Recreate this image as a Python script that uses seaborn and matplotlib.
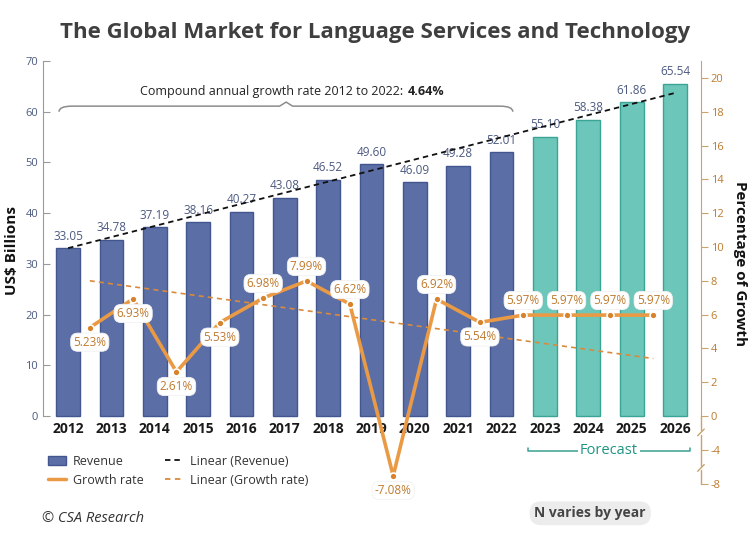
import numpy as np
import pandas as pd
import seaborn as sns
import matplotlib.pyplot as plt
import matplotlib.transforms as mtransforms
from matplotlib.path import Path
from matplotlib.patches import PathPatch, Patch
from matplotlib.lines import Line2D

# Data
years = ["2012", "2013", "2014", "2015", "2016", "2017", "2018", "2019",
         "2020", "2021", "2022", "2023", "2024", "2025", "2026"]
revenue = [33.05, 34.78, 37.19, 38.16, 40.27, 43.08, 46.52, 49.60,
           46.09, 49.28, 52.01, 55.10, 58.38, 61.86, 65.54]
segment = ["Actual"] * 11 + ["Forecast"] * 4
# growth between consecutive years (2012->2013 ... 2025->2026)
growth = [5.23, 6.93, 2.61, 5.53, 6.98, 7.99, 6.62, -7.08,
          6.92, 5.54, 5.97, 5.97, 5.97, 5.97]
# label above (+1) or below (-1) the point
growth_label_side = [-1, -1, -1, -1, 1, 1, 1, -1, 1, -1, 1, 1, 1, 1]
# Excel trendlines, value at first and last point
revenue_trend = [33.1, 63.7]
growth_trend = [8.0, 3.4]
cagr = "4.64%"
left_ticks = [0, 10, 20, 30, 40, 50, 60, 70]
right_ticks = [-8, -4, 0, 2, 4, 6, 8, 10, 12, 14, 16, 18, 20]

BLUE, BLUE_EDGE = "#5b6fa6", "#42568f"
TEAL, TEAL_EDGE = "#6dc6ba", "#3aa596"
ORANGE = "#ea9a45"
ORANGE_TXT = "#bf7a2e"
TAN = "#c9a36c"
SLATE = "#4c5a80"


def gscale(v):
    # right axis is compressed by half below zero
    v = np.asarray(v, dtype=float)
    return np.where(v >= 0, v, v / 2)


sns.set_style("white")
plt.rcParams["font.family"] = ["Open Sans", "DejaVu Sans"]

df = pd.DataFrame({"Year": years, "Revenue": revenue, "Segment": segment})

fig = plt.figure(figsize=(7.5, 5.38), dpi=100)
ax = fig.add_axes([0.0573, 0.1004, 0.8773, 0.7862])

sns.barplot(data=df, x="Year", y="Revenue", hue="Segment",
            palette={"Actual": BLUE, "Forecast": TEAL}, dodge=False,
            width=0.55, saturation=1, legend=False, ax=ax)
for cont, ec in zip(ax.containers, [BLUE_EDGE, TEAL_EDGE]):
    for bar in cont:
        bar.set_edgecolor(ec)
        bar.set_linewidth(1)

ax.set_xlim(-0.58, 14.6)
ax.set_ylim(-13.41, 70)
ax.set_xlabel("")
ax.set_ylabel("")
ax.set_xticks([])
ax.set_yticks(left_ticks)
ax.tick_params(axis="y", direction="in", length=5, color="#9a9a9a",
               labelcolor=SLATE, labelsize=8)
for s in ["top", "bottom", "right"]:
    ax.spines[s].set_visible(False)
ax.spines["left"].set_bounds(0, 70)
ax.spines["left"].set_color("#9a9a9a")

# value labels and year labels
for i, v in enumerate(revenue):
    ax.text(i, v + 2.4, f"{v:.2f}", ha="center", va="center",
            fontsize=8.5, color=SLATE)
for i, y in enumerate(years):
    ax.text(i, -2.5, y, ha="center", va="center", fontsize=10,
            fontweight="bold", color="#1a1a1a")

# revenue trendline
ax.plot([0, len(revenue) - 1], revenue_trend, color="#111111", lw=1.3,
        dashes=(3, 2.2), zorder=4)

# growth rate on the right axis
ax2 = ax.twinx()
ax2.set_ylim(-4.02, 21.0)
gx = np.arange(len(growth)) + 0.5
gy = gscale(growth)
ax2.plot([gx[0], gx[-1]], growth_trend, color="#d98a3c", lw=1.2,
         dashes=(3, 2.5), zorder=2)
sns.lineplot(x=gx, y=gy, ax=ax2, color=ORANGE, lw=2.6, marker="o",
             markersize=5, markerfacecolor="#d9822b",
             markeredgecolor="white", markeredgewidth=1.2, zorder=3)
for x, g, v, side in zip(gx, growth, gy, growth_label_side):
    ax2.annotate(f"{g:.2f}%", (x, v), xytext=(0, side * 10.5),
                 textcoords="offset points", ha="center", va="center",
                 fontsize=8.5, color=ORANGE_TXT, zorder=5,
                 bbox=dict(boxstyle="round,pad=0.22,rounding_size=0.6",
                           fc="white", ec="#f2f2f2", lw=0.6))

ax2.set_yticks(gscale(right_ticks))
ax2.set_yticklabels([str(t) for t in right_ticks])
ax2.tick_params(axis="y", direction="out", length=5, color=TAN,
                labelcolor=ORANGE_TXT, labelsize=8, pad=2)
for s in ["top", "bottom", "left"]:
    ax2.spines[s].set_visible(False)
ax2.spines["right"].set_bounds(0, 21.0)
ax2.spines["right"].set_color(TAN)
ax2.set_ylabel("")

# broken lower part of the right axis
tr = mtransforms.blended_transform_factory(ax2.transAxes, ax2.transData)
for a, b in [(0, -0.85), (-1.1, -2.95), (-3.2, -4.0)]:
    ax2.plot([1, 1], [a, b], color=TAN, lw=1, transform=tr, clip_on=False)
for yb in [-0.97, -3.07]:
    ax2.plot([0.995, 1.005], [yb - 0.2, yb + 0.2], color=TAN, lw=1,
             transform=tr, clip_on=False)

# CAGR brace
x0, x1, xm = -0.21, 10.26, 5.03
verts = [(x0, 60.0), (x0, 61.1), (x0 + 0.3, 61.1), (xm - 0.15, 61.1),
         (xm, 61.9), (xm + 0.15, 61.1), (x1 - 0.3, 61.1), (x1, 61.1),
         (x1, 60.0)]
codes = [Path.MOVETO, Path.CURVE3, Path.CURVE3, Path.LINETO, Path.LINETO,
         Path.LINETO, Path.LINETO, Path.CURVE3, Path.CURVE3]
ax.add_patch(PathPatch(Path(verts, codes), fc="none", ec="#8c8c8c", lw=1.1,
                       clip_on=False))
ax.text(7.73, 63.9, "Compound annual growth rate 2012 to 2022:", ha="right",
        va="center", fontsize=9, color="#222222")
ax.text(7.84, 63.9, cagr, ha="left", va="center", fontsize=9,
        fontweight="bold", color="#222222")

# forecast bracket
ax.plot([10.6, 10.6, 14.34, 14.34], [-6.3, -6.9, -6.9, -6.3],
        color="#3a9f92", lw=1.1, clip_on=False)
ax.text(12.48, -6.9, "Forecast", ha="center", va="center", fontsize=10.5,
        color="#1f9583", bbox=dict(boxstyle="square,pad=0.15", fc="white",
                                   ec="none"))

# titles
fig.text(0.5, 0.94, "The Global Market for Language Services and Technology",
         ha="center", va="center", fontsize=16, fontweight="bold",
         color="#3f3f3f")
fig.text(0.016, 0.535, "US$ Billions", rotation=90, ha="center",
         va="center", fontsize=11, fontweight="bold", color="#111111")
fig.text(0.987, 0.511, "Percentage of Growth", rotation=270, ha="center",
         va="center", fontsize=11, fontweight="bold", color="#111111")

# legend
handles = [Patch(facecolor=BLUE, edgecolor=BLUE_EDGE),
           Line2D([], [], color=ORANGE, lw=2.5),
           Line2D([], [], color="#111111", lw=1.3, dashes=(3, 2.2)),
           Line2D([], [], color="#d98a3c", lw=1.3, dashes=(3, 2.5))]
labels = ["Revenue", "Growth rate", "Linear (Revenue)", "Linear (Growth rate)"]
fig.legend(handles, labels, ncol=2, loc="upper left",
           bbox_to_anchor=(0.064, 0.155), frameon=False, fontsize=9,
           handlelength=1.45, handletextpad=0.55, columnspacing=1.7,
           labelspacing=0.5, borderpad=0, borderaxespad=0,
           labelcolor="#333333")

fig.text(0.056, 0.037, "© CSA Research", ha="left", va="center",
         fontsize=10.5, style="italic", color="#333333")
fig.text(0.787, 0.046, "N varies by year", ha="center", va="center",
         fontsize=10, fontweight="bold", color="#444444",
         bbox=dict(boxstyle="round,pad=0.35,rounding_size=0.8",
                   fc="#ececec", ec="none"))

fig.savefig("out.png", dpi=100)
